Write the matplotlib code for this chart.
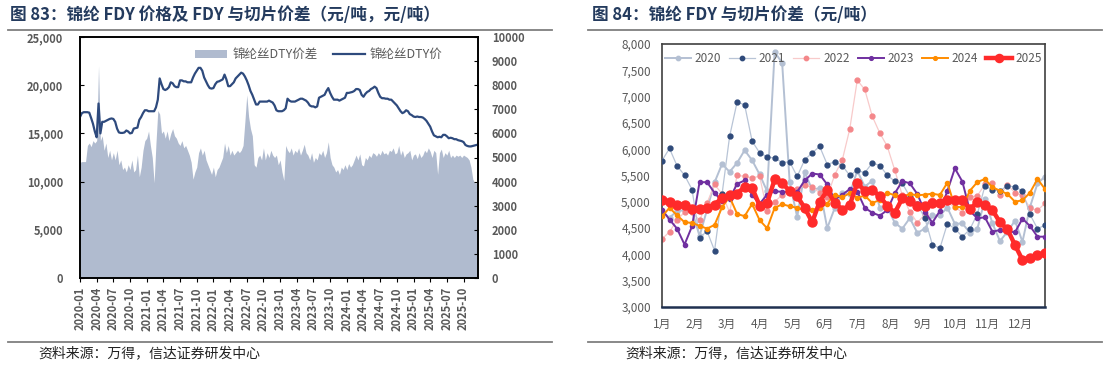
import numpy as np
import matplotlib
matplotlib.use("Agg")
import matplotlib.pyplot as plt
from matplotlib.ticker import FuncFormatter

plt.rcParams["font.family"] = ["Noto Sans CJK SC", "DejaVu Sans"]

# ---------------- 图83: 3 readings per month, starting 2020-01 ----------------
dty_price = [
    16700, 17100, 17200, 17200, 17200, 17150, 16600, 16000, 15200, 14600, 18100, 15000,
    16200, 16200, 16300, 16400, 16500, 16550, 16500, 16200, 15500, 15100, 15050, 15050,
    15100, 15300, 15200, 15000, 15050, 15500, 15550, 15600, 16400, 16700, 17100, 17400,
    # 2021
    17400, 17300, 17300, 17300, 17300, 17700, 18500, 20700, 20100, 19600, 19500, 19600,
    19800, 20300, 20200, 19900, 19800, 19800, 20500, 20500, 20400, 20400, 20300, 20300,
    20300, 20800, 21200, 21500, 21800, 21800, 21500, 20800, 20400, 20000, 19700, 19650,
    # 2022
    19700, 20100, 20350, 20400, 20500, 20600, 21100, 20600, 19900, 19900, 20100, 20300,
    20700, 20900, 21100, 21300, 21200, 20900, 20500, 20000, 19400, 19000, 18500, 18000,
    18000, 18300, 18300, 18300, 18300, 18300, 18400, 18300, 18200, 17900, 17400, 17300,
    # 2023
    17300, 17300, 17400, 17600, 18600, 18400, 18300, 18300, 18300, 18400, 18500, 18600,
    18600, 18500, 18400, 18200, 17900, 17800, 17800, 17700, 17800, 18700, 18800, 18900,
    19000, 19400, 19700, 19200, 18800, 18500, 18500, 18500, 18400, 18500, 18600, 18700,
    # 2024
    19200, 19200, 19250, 19300, 19400, 19600, 19600, 19500, 19000, 18800, 19100, 19300,
    19400, 19600, 19700, 19850, 19700, 19200, 18800, 18650, 18650, 18600, 18600, 18500,
    18500, 18300, 18100, 17900, 17600, 17300, 17100, 17200, 17400, 17300, 17000, 16900,
    # 2025
    16750, 16700, 16750, 16700, 16700, 16650, 16500, 16300, 16000, 15700, 15200, 14800,
    14700, 14600, 14650, 14600, 14850, 14850, 14700, 14500, 14550, 14500, 14400, 14400,
    14300, 14250, 14200, 14100, 13800, 13700, 13650, 13650, 13700, 13750, 13800,
]

dty_spread = [
    4800, 4830, 4830, 4830, 5500, 5600, 5450, 5700, 5600, 5700, 8800, 5700,
    5900, 5300, 5600, 5000, 5300, 4900, 5200, 4900, 5300, 4700, 4900, 4500,
    4600, 4400, 4700, 4500, 4900, 4400, 4500, 5100, 4200, 4600, 5300, 5700,
    # 2021
    5800, 6100, 5500, 5000, 3950, 5600, 6950, 6800, 6000, 6100, 5800, 6100,
    5700, 6000, 6200, 5900, 5800, 5600, 5500, 5700, 5400, 5500, 5300, 5100,
    4800, 4100, 4400, 4600, 5200, 5400, 5100, 5300, 4900, 4700, 4500, 4300,
    # 2022
    4600, 4200, 4500, 4600, 4800, 5000, 5600, 5200, 5500, 5100, 5300, 5100,
    5200, 5300, 5200, 5300, 5500, 6500, 7600, 6700, 6200, 5900, 4700, 4600,
    5000, 5100, 4900, 5400, 4900, 5200, 5000, 5300, 5100, 5000, 5100, 4700,
    # 2023
    4900, 4400, 4050, 5500, 5300, 5200, 5400, 5100, 5300, 5200, 5400, 5100,
    5300, 5550, 5200, 5100, 4900, 5200, 4800, 5000, 4900, 5200, 5100, 5300,
    5000, 5200, 5650, 5000, 4700, 4600, 4400, 4500, 4300, 4600, 4500, 4700,
    # 2024
    4500, 4750, 4600, 4700, 4900, 5100, 4900, 5150, 4700, 4650, 5000, 4900,
    5100, 5000, 5200, 5150, 5050, 5200, 5100, 5300, 5150, 5200, 5100, 5300,
    5250, 5400, 5150, 5200, 5500, 5100, 5300, 5000, 5150, 5200, 5300, 4900,
    # 2025
    5100, 5150, 4950, 5200, 5000, 5100, 5300, 5200, 5400, 5250, 5000, 5300,
    5200, 4300, 5200, 5350, 5000, 5200, 5100, 5300, 5000, 5100, 5000, 5100,
    5050, 5100, 5000, 5100, 5050, 5000, 4900, 4600, 4100, 3950, 3950,
]

# ---------------- 图84: weekly spread, 52 weeks per year ----------------
spread_2020 = [4800, 4700, 4820, 4840, 4830, 4350, 4850, 5370, 5720, 5570, 5740, 5980, 5790,
               5520, 5200, 7850, 7640, 5370, 4710, 5560, 5230, 5260, 4500, 4880, 5160, 5150,
               5590, 5290, 5400, 4890, 4895, 4600, 4490, 4690, 4410, 4490, 4740, 4740, 4890,
               4580, 4590, 4410, 4490, 5050, 4590, 4255, 4430, 4640, 4240, 4900, 5350, 5480]
spread_2021 = [5785, 6014, 5684, 5506, 5233, 4320, 4440, 4072, 5150, 6242, 6896, 6845, 6153,
               5931, 5855, 5830, 5747, 5760, 5481, 5798, 5931, 6052, 5709, 5760, 5690, 5500,
               5600, 5550, 5740, 5690, 5505, 5390, 5350, 5100, 4950, 4690, 4185, 4115, 4584,
               4489, 4337, 4476, 4774, 5300, 5224, 5211, 5307, 5281, 5211, 4760, 4489, 4556]
spread_2022 = [4294, 4428, 4656, 4802, 4802, 4650, 4980, 5329, 5150, 4802, 5500, 5487, 5455,
               5487, 4821, 4999, 5132, 5180, 5246, 5310, 5284, 5170, 5090, 5515, 5790, 6383,
               7312, 7135, 6625, 6308, 6054, 5598, 5123, 4810, 4603, 4762, 5034, 4971, 4990,
               4900, 4793, 5085, 5117, 5332, 5351, 5129, 5319, 5174, 5123, 4882, 4838, 4971]
spread_2023 = [4853, 4662, 4491, 4187, 4535, 5373, 5373, 5170, 5011, 5056, 5341, 5405, 5126,
               4961, 5138, 5202, 5189, 5189, 5189, 5405, 5538, 5519, 5329, 5043, 5135, 5240,
               5195, 4885, 4793, 4736, 4844, 5161, 5395, 5351, 5148, 4812, 4603, 4825, 5205,
               5636, 5383, 4825, 4686, 4705, 4432, 4464, 4445, 4419, 4679, 4540, 4337, 4337]
spread_2024 = [4726, 4884, 4745, 4612, 4599, 4542, 4491, 4561, 4897, 5094, 4770, 4726, 4961,
               4650, 4497, 4884, 4954, 4916, 4884, 4840, 4846, 4884, 4967, 5138, 5086, 5165,
               5078, 5117, 4977, 5034, 5173, 5123, 5098, 5148, 5123, 5136, 5155, 5129, 5364,
               4907, 4895, 5212, 5376, 5433, 5275, 5212, 5148, 5002, 5028, 5174, 5433, 5243]
spread_2025 = [5043, 4999, 4948, 4948, 4872, 4872, 4884, 4948, 5075, 5138, 5157, 5284, 5265,
               4929, 4980, 5424, 5360, 5202, 5107, 4884, 4612, 5005, 5215, 4986, 4850, 4935,
               5364, 5205, 5224, 5110, 4920, 4793, 5066, 5021, 4926, 4920, 4971, 4971, 5028,
               5028, 5034, 4863, 4990, 4939, 4844, 4610, 4477, 4179, 3894, 3938, 3982, 4033]
month_labels = ["1月", "2月", "3月", "4月", "5月", "6月", "7月", "8月", "9月", "10月", "11月", "12月"]

GRAY_TXT = "#595959"
TITLE_C = "#243b5e"

fig = plt.figure(figsize=(11.06, 3.65), dpi=100)

# titles, rules and source notes
fig.text(10 / 1106, 1 - 15 / 365, "图 83：锦纶 FDY 价格及 FDY 与切片价差（元/吨，元/吨）",
         fontsize=12, fontweight="bold", color=TITLE_C, va="center")
fig.text(592 / 1106, 1 - 15 / 365, "图 84：锦纶 FDY 与切片价差（元/吨）",
         fontsize=12, fontweight="bold", color=TITLE_C, va="center")
for x0, x1 in [(8, 552), (588, 1102)]:
    for yy in (30, 342):
        fig.add_artist(plt.Line2D([x0 / 1106, x1 / 1106], [1 - yy / 365] * 2,
                                  color="#7f7f7f", lw=1.3))
for xs in (38, 625):
    fig.text(xs / 1106, 1 - 353 / 365, "资料来源：万得，信达证券研发中心",
             fontsize=10, color="#222222", va="center")

# ---------------- 图83 ----------------
ax1 = fig.add_axes([80 / 1106, 87 / 365, 398 / 1106, 241 / 365])
ax2 = ax1.twinx()
m = np.arange(len(dty_price)) / 3
area = ax2.fill_between(m, dty_spread, color="#b0bbcf", lw=0, label="锦纶丝DTY价差")
line, = ax1.plot(m, dty_price, color="#2e4a7d", lw=1.6, label="锦纶丝DTY价")
ax1.set_zorder(ax2.get_zorder() + 1)
ax1.patch.set_visible(False)

ax1.set_xlim(0, 71.6)
ax1.set_ylim(0, 25000)
ax2.set_ylim(0, 10000)
ax1.set_yticks(range(0, 25001, 5000))
ax2.set_yticks(range(0, 10001, 1000))
ax1.yaxis.set_major_formatter(FuncFormatter(lambda v, p: f"{int(v):,}"))
ticks = list(range(0, 71, 3))
ax1.set_xticks(ticks)
ax1.set_xticklabels([f"{2020 + t // 12}-{t % 12 + 1:02d}" for t in ticks], rotation=90)
for a in (ax1, ax2):
    for s in a.spines.values():
        s.set_color("black")
        s.set_linewidth(1.2)
ax1.tick_params(axis="x", direction="out", length=3, labelsize=8, labelcolor=GRAY_TXT)
ax1.tick_params(axis="y", direction="in", length=3, labelsize=8, labelcolor=GRAY_TXT, pad=12)
ax2.tick_params(axis="y", direction="in", length=3, labelsize=8, labelcolor=GRAY_TXT, pad=10)
for lab in ax1.get_xticklabels() + ax1.get_yticklabels() + ax2.get_yticklabels():
    lab.set_fontweight("bold")
ax1.legend([area, line], ["锦纶丝DTY价差", "锦纶丝DTY价"], loc="upper center",
           bbox_to_anchor=(0.6, 1.0), ncol=2, frameon=False, fontsize=9,
           labelcolor=GRAY_TXT, handlelength=2.6, columnspacing=1.2, handletextpad=0.4)

# ---------------- 图84 ----------------
ax3 = fig.add_axes([662 / 1106, 58 / 365, 383 / 1106, 263 / 365])
wk = np.arange(52)
styles = {
    "2020": dict(data=spread_2020, color="#b4c0d3", lw=1.4, mfc="#b4c0d3", ms=3.5, z=2),
    "2021": dict(data=spread_2021, color="#b8c4d6", lw=0.9, mfc="#2f4a7a", ms=3.5, z=3),
    "2022": dict(data=spread_2022, color="#f8caca", lw=0.9, mfc="#f4878a", ms=3.5, z=2),
    "2023": dict(data=spread_2023, color="#7030a0", lw=1.4, mfc="#7030a0", ms=3, z=4),
    "2024": dict(data=spread_2024, color="#ff8c00", lw=1.4, mfc="#ff8c00", ms=3, z=4),
    "2025": dict(data=spread_2025, color="#ff2a2a", lw=3.2, mfc="#ff2a2a", ms=6.5, z=5),
}
for name, st in styles.items():
    ax3.plot(wk, st["data"], color=st["color"], lw=st["lw"], marker="o", ms=st["ms"],
             mfc=st["mfc"], mec=st["mfc"], zorder=st["z"], label=name)
ax3.set_xlim(0, 51)
ax3.set_ylim(3000, 8000)
ax3.set_yticks(range(3000, 8001, 500))
ax3.yaxis.set_major_formatter(FuncFormatter(lambda v, p: f"{int(v):,}"))
ax3.set_xticks([i * 4.34 for i in range(12)])
ax3.set_xticklabels(month_labels)
ax3.tick_params(length=0, labelsize=8.5, labelcolor=GRAY_TXT, pad=8)
for s in ax3.spines.values():
    s.set_color("#404040")
    s.set_linewidth(1.2)
ax3.spines["bottom"].set_color("#1f3050")
ax3.spines["bottom"].set_linewidth(1.8)
ax3.legend(loc="upper center", bbox_to_anchor=(0.5, 1.01), ncol=6, frameon=False,
           fontsize=8.5, labelcolor=GRAY_TXT, handlelength=2.2, columnspacing=0.7,
           handletextpad=0.3, markerscale=0.9)

fig.savefig("out.png", dpi=100)
